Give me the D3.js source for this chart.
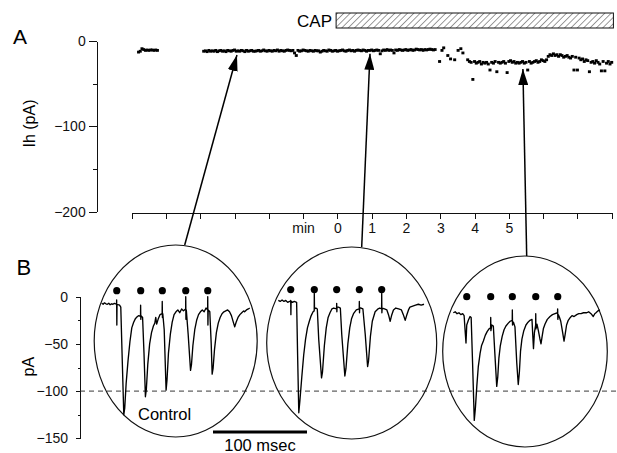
<!DOCTYPE html>
<html>
<head>
<meta charset="utf-8">
<script src="https://cdn.jsdelivr.net/npm/d3@7"></script>
<style>
  body { margin: 0; background: #fff; }
  svg { display: block; font-family: "Liberation Sans", Arial, sans-serif; }
  .axis path, .axis line { stroke: #111; stroke-width: 1; shape-rendering: crispEdges; }
  .axis text { font-size: 14px; fill: #111; }
</style>
</head>
<body>
<div id="viz"></div>
<script>
// ---- panel A : Ih vs time (min), one point per sweep ----
var sweepInterval = 0.05; // min

var ihControlEarlyStart = -5.8;
var ihControlEarly = [-13,-12,-9,-10,-11,-10.5,-11,-10.5,-10.5,-11,-10.5,-11];

var ihControlStart = -3.9;
var ihControl = [
  -12,-11.5,-12.5,-11,-12,-11.5,-12,-11,-12.5,-11.5,
  -11,-12,-11.5,-12.5,-11,-11.5,-12,-11,-10.5,-12,
  -11.5,-12,-11,-11.5,-12.5,-11,-12,-11.5,-11,-12,
  -12,-11.5,-11,-12,-11.5,-10.5,-11.5,-12,-11,-11.5,
  -12,-11,-11.5,-10.5,-12,-11,-11.5,-12,-11,-10.5,
  -11,-11.5,-11,-14,-17,-11,-12,-11.5,-10.5,-11,
  -11.5,-12,-11,-11.5,-12,-11,-11.5,-11.5,-13,-12,
  -11,-11.5,-12,-10.5,-11,-12,-11.5,-11,-12,-11.5,
  -11,-10.5,-11.5,-12,-11,-10.5,-11.5,-11,-12,-11,
  -10.5,-11,-11.5,-10.5,-11,-12,-11,-11,-10.5,-11.5,
  -11,-10.5,-11,-15,-11.5,-10.5,-11,-10,-11,-10.5,
  -11,-14,-10.5,-11,-10,-10.5,-11,-10.5,-10,-11,
  -10.5,-10,-11,-10.5,-9.5,-10,-10.5,-10,-11,-10,
  -10.5,-10,-9.5,-10,-10.5,-10
];

var ihWashTimes = [2.98, 3.05, 3.1, 3.22, 3.3, 3.42, 3.52, 3.6, 3.66];
var ihWash = [-24, -11, -8, -17, -21, -22, -11, -9, -14];

var ihCapStart = 3.8;
var ihCap = [
  -22,-24,-25,-45,-24,-26,-25,-24,-27,-25,
  -26,-25,-27,-34,-25,-26,-24,-36,-25,-26,
  -25,-24,-26,-37,-24,-23,-25,-24,-26,-25,
  -26,-25,-24,-26,-25,-34,-24,-26,-25,-24,
  -23,-25,-24,-22,-23,-24,-22,-18,-16,-17,
  -15,-17,-16,-18,-16,-17,-19,-18,-17,-19,
  -20,-18,-34,-19,-34,-20,-22,-21,-24,-22,
  -23,-36,-25,-24,-26,-23,-25,-27,-35,-24,
  -35,-26,-24,-27,-25
];

var capStart = 0, capEnd = 8; // min, CAP application bar
var timeTicks = [-6,-5,-4,-3,-2,-1,0,1,2,3,4,5,6,7,8];
var timeLabels = {"-1":"min","0":"0","1":"1","2":"2","3":"3","4":"4","5":"5"};
var ihTicks = [0, -100, -200];
var ihMinorTicks = [-50, -150];

// ---- panel B : synaptic currents, [ms, pA] ----
var traceControl = [[0,-7],[1.5,-8],[3,-6.5],[4.5,-7.5],[6,-8],[7.5,-7],[9,-8.5],[10.5,-7.5],[12,-8],[13.5,-7],
  [15.8,-8],[15.9,-3.5],[16.1,-30],[16.3,-8],[17.5,-8.5],[19,-9],[20.3,-11],[21.8,-65],[23.5,-125],[24.5,-118],
  [26,-92],[28,-68],[30,-48],[32,-33],[34,-27],[36,-23],[38,-21],[39.5,-20],[41.3,-21],[41.4,-9],[41.6,-24],[41.8,-20],
  [43.5,-22],[45,-60],[46.5,-106],[47.5,-98],[49,-72],[51,-50],[53,-38],[55,-31],[56.5,-28],[57.5,-22],[58.5,-29],
  [60,-24],[62,-19],[64.3,-18],[64.4,-5],[64.6,-22],[65,-18],[66.5,-35],[68.5,-99],[69.5,-88],[71,-60],[73,-40],
  [75,-27],[77,-19],[79,-16],[81,-14],[83,-17],[85,-13],[87,-15],[89.3,-13],[89.4,0],[89.6,-24],[90,-14],[92,-40],
  [94.5,-78],[95.5,-72],[97,-52],[99,-35],[101,-25],[103,-19],[105,-16],[107,-14],[109,-16],[111,-12],[112.7,-14],
  [112.8,0],[113,-30],[113.3,-14],[115,-16],[116.5,-50],[117.5,-82],[118.5,-76],[120,-56],[122,-38],[124,-28],
  [126,-22],[128,-18],[130,-16],[132,-15],[134,-14],[136,-16],[138,-20],[140,-27],[141.5,-32],[143,-27],[145,-22],
  [147,-19],[149,-17],[151,-15],[152,-16],[154,-14],[156,-13],[157.5,-12]];

var traceCap1 = [[0,-4],[2,-5],[4,-3.5],[6,-5],[8,-4],[10,-6],[12,-5],[13.1,-5],[13.2,-4],[13.4,-19],[13.6,-5],
  [15,-6],[17,-5],[19.5,-6],[20.5,-60],[21.8,-123],[23,-110],[25,-85],[27,-62],[29,-45],[31,-33],[33,-26],[35,-20],
  [37,-16],[38.2,-15],[38.3,3.5],[38.5,-13],[40,-12],[41.5,-13],[43,-45],[46,-86],[47,-80],[49,-52],[51,-33],
  [53,-22],[55,-17],[57,-13],[59,-12],[62,-13],[62.1,-7],[62.3,-16],[62.5,-11],[64,-11],[66,-12],[67.5,-40],
  [70.8,-84],[72,-76],[74,-50],[76,-33],[78,-23],[80,-18],[83,-14],[86.1,-13],[86.2,-5],[86.4,-17],[86.6,-12],
  [88,-12],[90,-13],[92.5,-40],[95,-74],[96,-68],[98,-42],[100,-26],[103,-16],[106,-13],[108,-12],[109.9,-13],
  [110,3.5],[110.2,-17],[110.5,-12],[113,-13],[115.5,-14],[117.5,-20],[119,-26],[120.5,-20],[122.5,-14],[125,-12],
  [128,-13],[131,-14],[133,-19],[135,-25],[136.5,-20],[138.5,-14],[140,-11],[143,-10],[146,-9],[149,-8],[152,-9],[155,-8]];

var traceCap5 = [[0,-17],[2,-16],[4,-18],[6,-17],[8,-19],[10,-18],[11.5,-20],[12.5,-35],[13.5,-49],[14.3,-30],
  [16,-25],[17.8,-21],[19,-22],[20.5,-70],[22.3,-131],[23.5,-118],[25,-95],[26.6,-74],[28.5,-60],[30,-52],[32,-47],
  [34,-41],[36,-37],[38,-34],[39.7,-33],[39.8,-22],[40,-36],[41,-30],[42.6,-31],[44.2,-60],[46.2,-95],[47.3,-85],
  [48.5,-65],[50,-52],[52,-42],[54,-35],[56,-31],[58.5,-28],[60.5,-26],[62.7,-25],[62.8,-14],[63,-30],[64,-27],
  [65.6,-32],[67.5,-70],[69.1,-93],[70.3,-80],[71.5,-58],[73,-45],[75,-36],[77.3,-30],[79.5,-27],[81.6,-25],
  [83.7,-24],[84.5,-40],[85.3,-55],[86.3,-38],[87.6,-30],[87.7,-18],[87.9,-34],[89,-29],[90.5,-36],[92,-44],
  [93.3,-50],[94.5,-42],[95.8,-34],[97.6,-29],[100,-24],[102.9,-21],[105.5,-19],[108.2,-18],[110.9,-17],[111,-13],
  [111.2,-24],[111.7,-19],[113,-22],[114.3,-26],[116,-36],[117.8,-47],[119,-40],[120.5,-30],[122.3,-25],[124.5,-22],
  [126.3,-20],[128.5,-21],[131.3,-19],[133.5,-18],[135.9,-18],[138.5,-17],[141.9,-17],[144,-16],[146.5,-18],
  [148.9,-21],[150.5,-18],[151.8,-17],[154,-15],[156,-14]];

var stimControl = [16, 41.5, 64.5, 89.4, 112.8];
var stimCap1 = [13.2, 38.3, 62.1, 86.2, 110];
var stimCap5 = [14.3, 39.8, 62.8, 87.7, 111.1];
var stimLevels = [6.4, 7.5, 0]; // pA, height of the dots
var sweepTimes = [-2.93, 0.95, 5.41]; // min, where each sweep was taken (arrow tips)
var sweepTipIh = [-16.4, -15, -32.8];
var epscTicks = [0, -50, -100, -150];
var epscMinorTicks = [-25, -75, -125];
var scaleBarMs = 100;

var W = 617, H = 453;
var svg = d3.select('#viz').append('svg').attr('width', W).attr('height', H);

var defs = svg.append('defs');
var pat = defs.append('pattern').attr('id', 'hatch').attr('patternUnits', 'userSpaceOnUse')
    .attr('width', 4.5).attr('height', 4.5).attr('patternTransform', 'rotate(45)');
pat.append('line').attr('x1', 0).attr('y1', 0).attr('x2', 0).attr('y2', 4.5)
    .attr('stroke', '#222').attr('stroke-width', 0.9);
defs.append('marker').attr('id', 'arr').attr('viewBox', '0 0 16 10')
    .attr('refX', 16).attr('refY', 5).attr('markerWidth', 16).attr('markerHeight', 10)
    .attr('markerUnits', 'userSpaceOnUse').attr('orient', 'auto')
  .append('path').attr('d', 'M0,0L16,5L0,10Z').attr('fill', '#000');

// ===== panel A =====
var xA = d3.scaleLinear().domain([-6, 8]).range([131.7, 611.7]);
var yA = d3.scaleLinear().domain([-200, 0]).range([211.7, 41]);

svg.append('g').attr('class', 'axis').attr('transform', 'translate(96.7,0)')
   .call(d3.axisLeft(yA).tickValues(ihTicks).tickSize(8).tickSizeOuter(0).tickPadding(3));
svg.append('g').attr('class', 'axis').attr('transform', 'translate(96.7,0)')
   .call(d3.axisLeft(yA).tickValues(ihMinorTicks).tickSize(4).tickSizeOuter(0).tickFormat(''))
   .select('.domain').remove();

svg.append('g').attr('class', 'axis').attr('transform', 'translate(0,212.5)')
   .call(d3.axisBottom(xA).tickValues(timeTicks).tickSize(6).tickSizeOuter(0).tickPadding(5)
     .tickFormat(function(d){ return timeLabels[String(d)] || ''; }));

// points
var pts = [];
ihControlEarly.forEach(function(v, i){ pts.push([ihControlEarlyStart + i*sweepInterval, v]); });
ihControl.forEach(function(v, i){ pts.push([ihControlStart + i*sweepInterval, v]); });
ihWash.forEach(function(v, i){ pts.push([ihWashTimes[i], v]); });
ihCap.forEach(function(v, i){ pts.push([ihCapStart + i*sweepInterval, v]); });

svg.append('g').selectAll('rect').data(pts).enter().append('rect')
   .attr('x', function(d){ return xA(d[0]) - 1.5; })
   .attr('y', function(d){ return yA(d[1]) - 1.4; })
   .attr('width', 3).attr('height', 2.8).attr('fill', '#000');

// CAP bar
svg.append('rect').attr('x', xA(capStart) - 1.3).attr('y', 13)
   .attr('width', xA(capEnd) - xA(capStart) + 3).attr('height', 15)
   .attr('fill', 'url(#hatch)').attr('stroke', '#111').attr('stroke-width', 1);
svg.append('text').attr('x', 332).attr('y', 27).attr('text-anchor', 'end')
   .attr('font-size', 17).text('CAP');

svg.append('text').attr('x', 13).attr('y', 43.5).attr('font-size', 21).text('A');
svg.append('text').attr('transform', 'translate(35,123.5) rotate(-90)').attr('text-anchor', 'middle')
   .attr('font-size', 16).text('Ih (pA)');

// ===== panel B =====
var yB = d3.scaleLinear().domain([-150, 0]).range([438.3, 296.7]);
var tB = d3.scaleLinear().domain([0, 100]).range([0, 94]);

svg.append('g').attr('class', 'axis').attr('transform', 'translate(80,0)')
   .call(d3.axisLeft(yB).tickValues(epscTicks).tickSize(4).tickSizeOuter(0).tickPadding(8));
svg.append('g').attr('class', 'axis').attr('transform', 'translate(80,0)')
   .call(d3.axisLeft(yB).tickValues(epscMinorTicks).tickSize(2.5).tickSizeOuter(0).tickFormat(''))
   .select('.domain').remove();

svg.append('line').attr('x1', 80).attr('x2', W).attr('y1', yB(-100)).attr('y2', yB(-100))
   .attr('stroke', '#222').attr('stroke-width', 0.9).attr('stroke-dasharray', '5,4');

svg.append('text').attr('x', 16.5).attr('y', 274.5).attr('font-size', 22).text('B');
svg.append('text').attr('transform', 'translate(34,366.7) rotate(-90)').attr('text-anchor', 'middle')
   .attr('font-size', 16).text('pA');

var ellipses = [
  {cx: 175.7, cy: 341, rx: 81.5, ry: 96, x0: 101.7, trace: traceControl, stim: stimControl, baseX: 184.7},
  {cx: 351.7, cy: 343, rx: 85, ry: 96, x0: 278.3, trace: traceCap1, stim: stimCap1, baseX: 361.7},
  {cx: 525, cy: 351.5, rx: 82.3, ry: 95.5, x0: 453.3, trace: traceCap5, stim: stimCap5, baseX: 526.7}
];

var line = d3.line().x(function(d){ return tB(d[0]); }).y(function(d){ return yB(d[1]); });

ellipses.forEach(function(e, k){
  svg.append('ellipse').attr('cx', e.cx).attr('cy', e.cy).attr('rx', e.rx).attr('ry', e.ry)
     .attr('fill', 'none').attr('stroke', '#111').attr('stroke-width', 1.2);

  var g = svg.append('g').attr('transform', 'translate(' + e.x0 + ',0)');
  g.append('path').datum(e.trace).attr('d', line)
   .attr('fill', 'none').attr('stroke', '#000').attr('stroke-width', 1.35).attr('stroke-linejoin', 'round');
  g.selectAll('circle').data(e.stim).enter().append('circle')
   .attr('cx', function(d){ return tB(d); }).attr('cy', yB(stimLevels[k])).attr('r', 3.6).attr('fill', '#000');

  // arrow from circle top to the sweep in panel A
  svg.append('line').attr('x1', e.baseX).attr('y1', e.cy - e.ry)
     .attr('x2', xA(sweepTimes[k])).attr('y2', yA(sweepTipIh[k]))
     .attr('stroke', '#000').attr('stroke-width', 1.5).attr('marker-end', 'url(#arr)');
});

svg.append('text').attr('x', 138).attr('y', 420).attr('font-size', 16.5).text('Control');

// scale bar
svg.append('line').attr('x1', 213).attr('x2', 213 + tB(scaleBarMs)).attr('y1', 432).attr('y2', 432)
   .attr('stroke', '#000').attr('stroke-width', 3);
svg.append('text').attr('x', 213 + tB(scaleBarMs) / 2).attr('y', 450.5).attr('text-anchor', 'middle')
   .attr('font-size', 16.5).text('100 msec');
</script>
</body>
</html>
